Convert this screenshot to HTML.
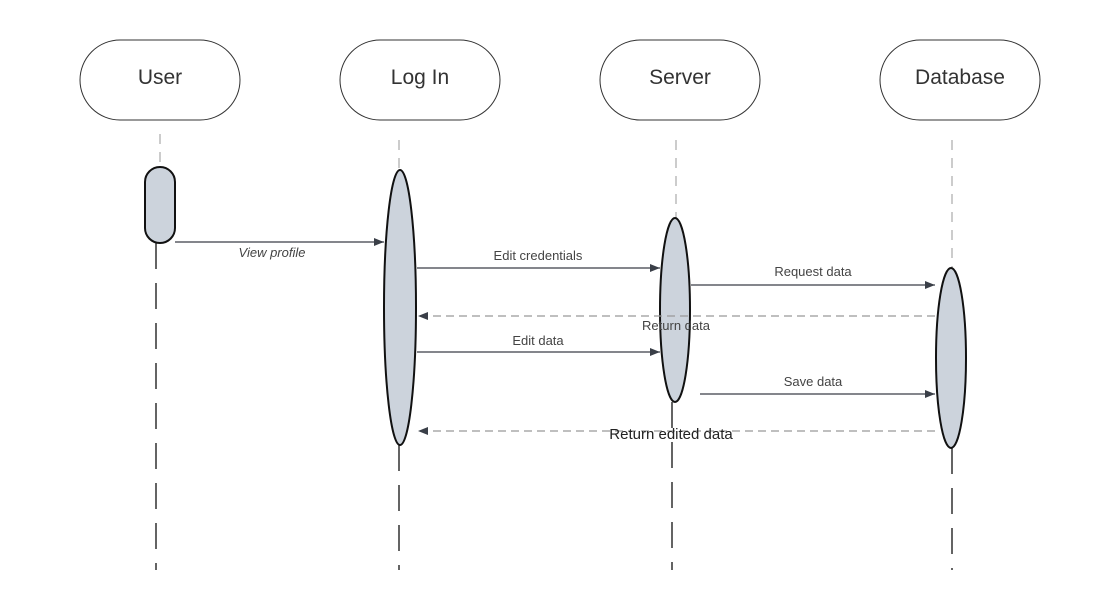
<!DOCTYPE html>
<html><head><meta charset="utf-8"><style>
html,body{margin:0;padding:0;background:#fff;}
svg{display:block;font-family:"Liberation Sans",Arial,sans-serif;}
</style></head><body>
<svg width="1095" height="610" viewBox="0 0 1095 610" xmlns="http://www.w3.org/2000/svg">
<defs>
<marker id="a" markerWidth="10" markerHeight="8" refX="10" refY="4" orient="auto" markerUnits="userSpaceOnUse">
<path d="M0,0 L10,4 L0,8 z" fill="#3a3f48"/></marker>
</defs>
<!-- headers -->
<g fill="#fff" stroke="#333" stroke-width="1">
<rect x="80" y="40" width="160" height="80" rx="40"/>
<rect x="340" y="40" width="160" height="80" rx="40"/>
<rect x="600" y="40" width="160" height="80" rx="40"/>
<rect x="880" y="40" width="160" height="80" rx="40"/>
</g>
<g font-size="21" fill="#333" text-anchor="middle">
<text x="160" y="84">User</text>
<text x="420" y="84">Log In</text>
<text x="680" y="84">Server</text>
<text x="960" y="84">Database</text>
</g>
<!-- upper lifelines -->
<g stroke="#aaa" stroke-width="1.2" stroke-dasharray="10,8">
<line x1="160" y1="134" x2="160" y2="166"/>
<line x1="399" y1="140" x2="399" y2="170"/>
<line x1="676" y1="140" x2="676" y2="218"/>
<line x1="952" y1="140" x2="952" y2="268"/>
</g>
<!-- lower lifelines -->
<g stroke="#111" stroke-width="1.3" stroke-dasharray="26,14">
<line x1="156" y1="243" x2="156" y2="570"/>
<line x1="399" y1="445" x2="399" y2="570"/>
<line x1="672" y1="402" x2="672" y2="570"/>
<line x1="952" y1="448" x2="952" y2="570"/>
</g>
<!-- activations -->
<g fill="#ccd3dc" stroke="#111" stroke-width="2">
<rect x="145" y="167" width="30" height="76" rx="15"/>
<ellipse cx="400" cy="307.5" rx="16" ry="137.5"/>
<ellipse cx="675" cy="310" rx="15" ry="92"/>
<ellipse cx="951" cy="358" rx="15" ry="90"/>
</g>
<!-- messages -->
<g stroke="#3a3f48" stroke-width="1.2" fill="none">
<line x1="175" y1="242" x2="384" y2="242" marker-end="url(#a)"/>
<line x1="417" y1="268" x2="660" y2="268" marker-end="url(#a)"/>
<line x1="691" y1="285" x2="935" y2="285" marker-end="url(#a)"/>
<line x1="417" y1="352" x2="660" y2="352" marker-end="url(#a)"/>
<line x1="700" y1="394" x2="935" y2="394" marker-end="url(#a)"/>
</g>
<g stroke="#999" stroke-width="1.3" stroke-dasharray="8,5" fill="none">
<line x1="935" y1="316" x2="418" y2="316" marker-end="url(#a)"/>
<line x1="935" y1="431" x2="418" y2="431" marker-end="url(#a)"/>
</g>
<g font-size="13" fill="#444" text-anchor="middle">
<text x="272" y="257" font-style="italic">View profile</text>
<text x="538" y="260">Edit credentials</text>
<text x="813" y="276">Request data</text>
<text x="676" y="330">Return data</text>
<text x="538" y="345">Edit data</text>
<text x="813" y="386">Save  data</text>
<text x="671" y="439" font-size="15" fill="#222">Return edited data</text>
</g>
</svg>
</body></html>
